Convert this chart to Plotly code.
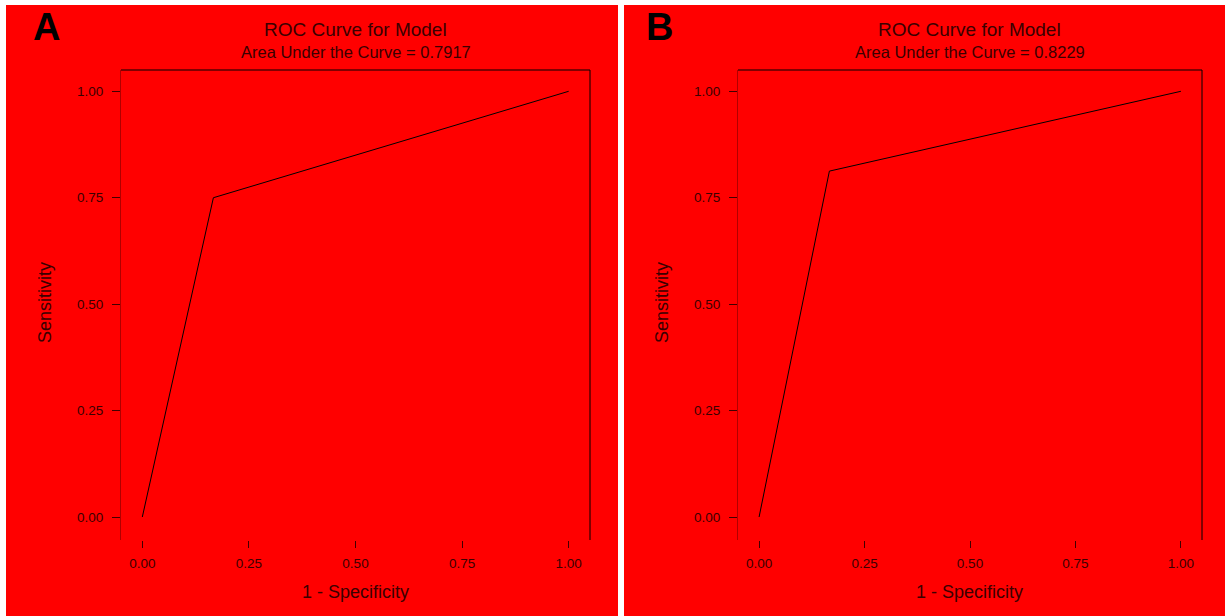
import plotly.graph_objects as go

# Data
panel_labels = ["A", "B"]
auc_values = ["0.7917", "0.8229"]
fpr_a = [0.0, 1/6, 1.0]
tpr_a = [0.0, 0.75, 1.0]
fpr_b = [0.0, 1/6, 1.0]
tpr_b = [0.0, 0.8125, 1.0]
tick_vals = [0.0, 0.25, 0.5, 0.75, 1.0]
tick_text = ["0.00", "0.25", "0.50", "0.75", "1.00"]

W, H = 1225, 616
FONT = "Liberation Sans, Arial, sans-serif"
TXT = "#3a0000"
RED = "#ff0000"

def px_x(p):
    return p / W

def px_y(p):
    return (H - p) / H

fig = go.Figure()
fig.add_trace(go.Scatter(x=fpr_a, y=tpr_a, mode="lines", line=dict(color="black", width=1),
                         xaxis="x", yaxis="y", showlegend=False, hoverinfo="skip"))
fig.add_trace(go.Scatter(x=fpr_b, y=tpr_b, mode="lines", line=dict(color="black", width=1),
                         xaxis="x2", yaxis="y2", showlegend=False, hoverinfo="skip"))

ydom = [px_y(540), px_y(70)]
domA = [px_x(121), px_x(590)]
domB = [px_x(738), px_x(1202)]

def xax(dom, anchor):
    return dict(domain=dom, anchor=anchor, range=[-0.05, 1.05], tickvals=tick_vals, ticktext=tick_text,
                ticks="outside", ticklen=7, tickcolor="#400000", tickwidth=1,
                showline=False, showgrid=False, zeroline=False,
                tickfont=dict(family=FONT, size=13.5, color=TXT), ticklabelstandoff=4)

def yax(anchor):
    return dict(domain=ydom, anchor=anchor, range=[-0.054, 1.05], tickvals=tick_vals, ticktext=tick_text,
                ticks="outside", ticklen=8, tickcolor="#400000", tickwidth=1,
                showline=True, linecolor="#b00000", linewidth=1,
                showgrid=False, zeroline=False,
                tickfont=dict(family=FONT, size=13.5, color=TXT), ticklabelstandoff=6)

shapes = [
    dict(type="rect", xref="paper", yref="paper", x0=px_x(6), x1=px_x(618), y0=0, y1=px_y(5),
         fillcolor=RED, line=dict(width=0), layer="below"),
    dict(type="rect", xref="paper", yref="paper", x0=px_x(624), x1=1, y0=0, y1=px_y(5),
         fillcolor=RED, line=dict(width=0), layer="below"),
]
for xr, yr in [("x", "y"), ("x2", "y2")]:
    shapes.append(dict(type="line", xref=f"{xr} domain", yref=f"{yr} domain", x0=0, x1=1, y0=1, y1=1,
                       line=dict(color="black", width=1)))
    shapes.append(dict(type="line", xref=f"{xr} domain", yref=f"{yr} domain", x0=1, x1=1, y0=0, y1=1,
                       line=dict(color="black", width=1)))

annotations = []
for i, (dom, lx, sx) in enumerate([(domA, 46, 45), (domB, 659, 662)]):
    cx = (dom[0] + dom[1]) / 2
    annotations += [
        dict(text=panel_labels[i], x=px_x(lx), y=px_y(27), xref="paper", yref="paper",
             showarrow=False, xanchor="center", yanchor="middle",
             font=dict(family=FONT, size=38, color="black", weight="bold")),
        dict(text="ROC Curve for Model", x=cx, y=px_y(30), xref="paper", yref="paper",
             showarrow=False, xanchor="center", yanchor="middle",
             font=dict(family=FONT, size=19, color=TXT)),
        dict(text="Area Under the Curve = " + auc_values[i], x=cx, y=px_y(52), xref="paper", yref="paper",
             showarrow=False, xanchor="center", yanchor="middle",
             font=dict(family=FONT, size=16.5, color=TXT)),
        dict(text="1 - Specificity", x=cx, y=px_y(592), xref="paper", yref="paper",
             showarrow=False, xanchor="center", yanchor="middle",
             font=dict(family=FONT, size=18, color=TXT)),
        dict(text="Sensitivity", x=px_x(sx), y=px_y(303), xref="paper", yref="paper",
             showarrow=False, xanchor="center", yanchor="middle", textangle=-90,
             font=dict(family=FONT, size=18, color=TXT)),
    ]

fig.update_layout(
    width=W, height=H, margin=dict(l=0, r=0, t=0, b=0),
    paper_bgcolor="white", plot_bgcolor="rgba(0,0,0,0)",
    xaxis=xax(domA, "y"), yaxis=yax("x"),
    xaxis2=xax(domB, "y2"), yaxis2=yax("x2"),
    shapes=shapes, annotations=annotations,
)

fig.write_html("out.html", config={"displayModeBar": False},
               post_script="document.body.style.margin='0';document.body.style.overflow='hidden';")
